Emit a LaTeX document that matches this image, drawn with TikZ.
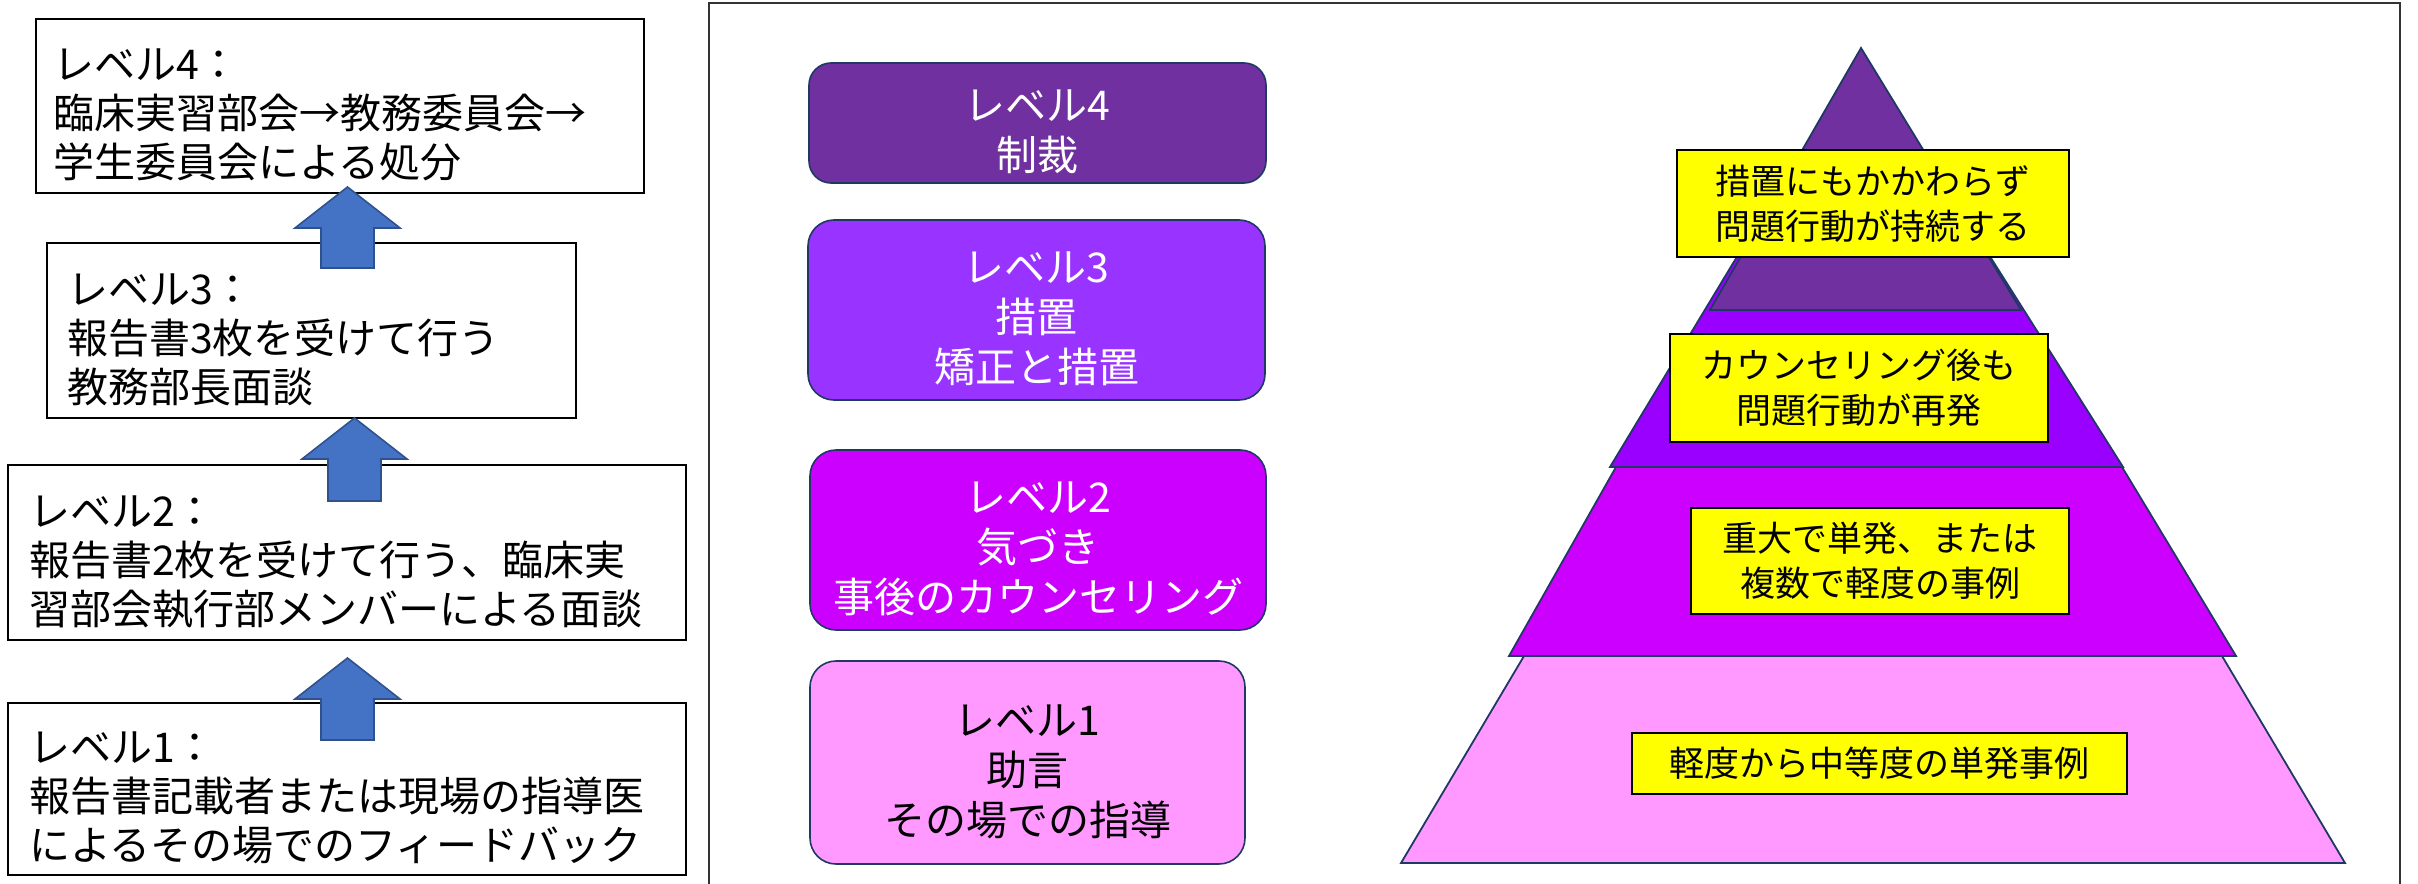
\documentclass[tikz,border=0pt]{standalone}
\usepackage{fontspec}
\setmainfont{Noto Sans CJK JP}
\definecolor{arrowfill}{HTML}{4472C4}
\definecolor{arrowline}{HTML}{2F528F}
\definecolor{navy}{HTML}{203864}
\definecolor{lvfour}{HTML}{7030A0}
\definecolor{lvthreebox}{HTML}{9933FF}
\definecolor{lvthree}{HTML}{9900FF}
\definecolor{lvtwo}{HTML}{CC00FF}
\definecolor{lvone}{HTML}{FF99FF}
\definecolor{yel}{HTML}{FFFF00}
\newcommand\dn{\rule{0pt}{24.5pt}}
\tikzset{
  lbox/.style={draw=black, line width=1pt, fill=white, align=left, inner ysep=0pt,
    font=\fontsize{20.5pt}{24.5pt}\selectfont},
  rbox/.style={draw=navy, line width=0.8pt, rounded corners=13pt, align=center,
    font=\fontsize{20.5pt}{25pt}\selectfont, inner sep=0pt},
  ybox/.style={draw=black, line width=1pt, fill=yel, align=center, inner sep=0pt,
    font=\fontsize{17.5pt}{22.5pt}\selectfont},
  layer/.style={draw=navy, line width=0.9pt},
  barrow/.style={fill=arrowfill, draw=arrowline, line width=0.8pt},
}
\newcommand\blkarrow[3]{% cx, tip y, bottom y
  \draw[barrow] ({#1},{#2}) -- ({#1+52.5},{#2+41}) -- ({#1+26.5},{#2+41}) -- ({#1+26.5},{#3})
    -- ({#1-26.5},{#3}) -- ({#1-26.5},{#2+41}) -- ({#1-52.5},{#2+41}) -- cycle;}
\begin{document}
\begin{tikzpicture}[x=0.5pt, y=-0.5pt]
\useasboundingbox (0,0) rectangle (2418,883);
\clip (0,0) rectangle (2418,883);

% left column
\node[lbox, minimum width=304pt, minimum height=87pt, text width=287pt, inner xsep=8.5pt] (l4) at (340,106)
  {\dn レベル4：\\臨床実習部会→教務委員会→\\学生委員会による処分};
\node[lbox, minimum width=264.5pt, minimum height=87.5pt, text width=244.5pt, inner xsep=10pt] (l3) at (311.5,330.5)
  {\dn レベル3：\\報告書3枚を受けて行う\\教務部長面談};
\node[lbox, minimum width=339pt, minimum height=87.5pt, text width=318pt, inner xsep=10.5pt] (l2) at (347,552.5)
  {\dn レベル2：\\報告書2枚を受けて行う、臨床実\\習部会執行部メンバーによる面談};
\node[lbox, minimum width=339pt, minimum height=86pt, text width=318pt, inner xsep=10.5pt] (l1) at (347,789)
  {\dn レベル1：\\報告書記載者または現場の指導医\\によるその場でのフィードバック};

\blkarrow{347.5}{187}{268}
\blkarrow{354.5}{418}{501}
\blkarrow{347.5}{658}{740}

% right frame
\draw[line width=1pt, draw=black!80] (709,3) rectangle (2400,895);

% level boxes
\node[rbox, fill=lvfour, text=white, minimum width=228.5pt, minimum height=60pt, rounded corners=11pt] (r4) at (1037.5,123)
  {\dn レベル4\\制裁};
\node[rbox, fill=lvthreebox, text=white, minimum width=228.5pt, minimum height=90pt] (r3) at (1036.5,310)
  {\dn レベル3\\措置\\矯正と措置};
\node[rbox, fill=lvtwo, text=white, minimum width=228pt, minimum height=90pt] (r2) at (1038,540)
  {\dn レベル2\\気づき\\事後のカウンセリング};
\node[rbox, fill=lvone, text=black, minimum width=217.5pt, minimum height=101.5pt] (r1) at (1027.5,762.5)
  {\dn レベル1\\助言\\その場での指導};

% pyramid
\draw[layer, fill=lvone] (1401,863) -- (2345,863) -- (2222,656) -- (1524,656) -- cycle;
\draw[layer, fill=lvtwo] (1509,656) -- (2236,656) -- (2122,467) -- (1616,467) -- cycle;
\draw[layer, fill=lvthree] (1610,467) -- (2123,467) -- (1989,255) -- (1738,255) -- cycle;
\draw[layer, fill=lvfour] (1861,48) -- (2021,310) -- (1710,310) -- cycle;

% yellow labels
\node[ybox, minimum width=196pt, minimum height=53.5pt] (y4) at (1873,203.5)
  {措置にもかかわらず\\問題行動が持続する};
\node[ybox, minimum width=189pt, minimum height=54pt] (y3) at (1859,388)
  {カウンセリング後も\\問題行動が再発};
\node[ybox, minimum width=189pt, minimum height=53pt] (y2) at (1880,561)
  {重大で単発、または\\複数で軽度の事例};
\node[ybox, minimum width=247.5pt, minimum height=30.5pt] (y1) at (1879.5,763.5)
  {軽度から中等度の単発事例};
\end{tikzpicture}
\end{document}
